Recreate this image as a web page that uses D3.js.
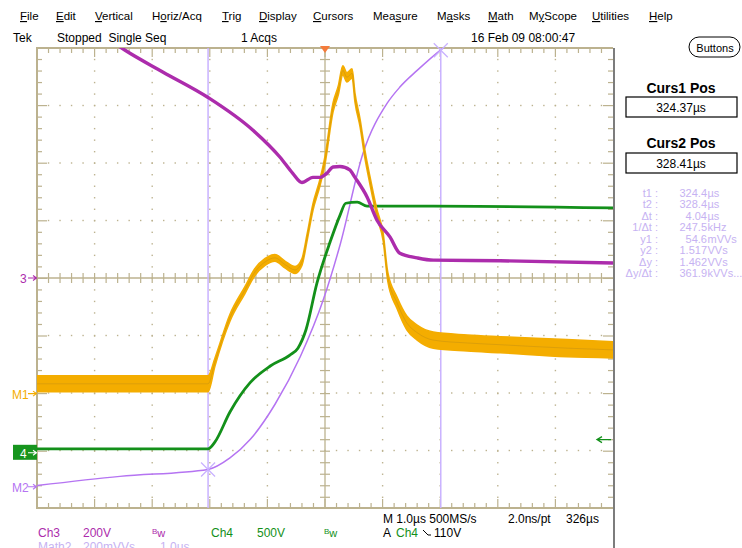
<!DOCTYPE html>
<html>
<head>
<meta charset="utf-8">
<script src="https://cdn.jsdelivr.net/npm/d3@7"></script>
<style>
  body { margin: 0; background: #fff; }
  svg { display: block; font-family: "Liberation Sans", Arial, sans-serif; }
</style>
</head>
<body>
<svg id="scope" width="742" height="548"></svg>
<script>
// time base: 10 divisions of 1 µs, left edge at 321.4 µs
const tStart = 321.4;
const tDiv = 1.0;

// traces: time (µs) and value in divisions from screen centre
const ch3T = [322.75, 322.93, 323.59, 324.37, 325.15, 325.62, 325.84, 326.00, 326.19, 326.31, 326.43, 326.54, 326.66, 326.83, 326.92, 327.13, 327.30, 327.53, 327.70, 328.00, 328.28, 329.44, 331.40];
const ch3V = [4.08, 3.96, 3.58, 3.14, 2.57, 2.10, 1.82, 1.66, 1.75, 1.75, 1.82, 1.93, 1.94, 1.88, 1.75, 1.41, 1.01, 0.71, 0.43, 0.35, 0.31, 0.30, 0.26];

const m1T = [321.40, 324.37, 324.49, 324.75, 325.01, 325.18, 325.36, 325.53, 325.71, 325.88, 326.00, 326.09, 326.19, 326.31, 326.40, 326.54, 326.63, 326.71, 326.78, 326.87, 326.92, 327.01, 327.09, 327.18, 327.30, 327.41, 327.49, 327.65, 327.82, 328.00, 328.28, 328.87, 329.44, 330.60, 331.40];
const m1V = [-1.84, -1.84, -1.46, -0.69, -0.21, 0.10, 0.28, 0.35, 0.23, 0.14, 0.28, 0.71, 1.23, 1.65, 2.05, 2.97, 3.26, 3.61, 3.49, 3.56, 3.14, 2.69, 2.17, 1.70, 1.13, 0.71, 0.02, -0.43, -0.78, -0.95, -1.08, -1.13, -1.16, -1.22, -1.25];
// half width of the noise band, divisions
const m1S = [0.14, 0.14, 0.07, 0.06, 0.06, 0.06, 0.06, 0.06, 0.06, 0.06, 0.06, 0.06, 0.06, 0.06, 0.07, 0.08, 0.08, 0.08, 0.08, 0.08, 0.08, 0.07, 0.07, 0.07, 0.07, 0.07, 0.08, 0.10, 0.12, 0.13, 0.14, 0.14, 0.14, 0.15, 0.14];

const ch4T = [321.40, 324.37, 324.49, 324.75, 325.10, 325.45, 325.79, 325.93, 326.07, 326.26, 326.49, 326.66, 326.76, 326.96, 327.13, 328.28, 331.40];
const ch4V = [-2.97, -2.97, -2.85, -2.33, -1.82, -1.53, -1.34, -1.22, -0.90, -0.09, 0.63, 1.09, 1.30, 1.32, 1.25, 1.25, 1.22];

const m2T = [321.40, 322.84, 324.37, 324.75, 325.10, 325.53, 325.97, 326.37, 326.66, 327.06, 327.48, 327.70, 328.00, 328.40, 328.74];
const m2V = [-3.61, -3.45, -3.33, -3.13, -2.81, -2.20, -1.37, -0.38, 0.57, 2.17, 3.04, 3.32, 3.61, 3.96, 4.20];

const cursorT = [324.37, 328.41];
const cursorV = [-3.33, 3.96];

// channel markers on the left (division offset)
const markerNames = ["3", "M1", "4", "M2"];
const markerV = [0, -2.01, -3.04, -3.63];
const trigLevelV = -2.81;

const menuLabels = ["File", "Edit", "Vertical", "Horiz/Acq", "Trig", "Display", "Cursors", "Measure", "Masks", "Math", "MyScope", "Utilities", "Help"];
const menuUnderline = [0, 0, 0, 1, 0, 0, 0, 3, 1, 0, 1, 0, 0];

const readLabels = ["t1 :", "t2 :", "\u0394t :", "1/\u0394t :", "y1 :", "y2 :", "\u0394y :", "\u0394y/\u0394t :"];
const readNums = ["324.4", "328.4", "4.04", "247.5", "54.6", "1.517", "1.462", "361.9"];
const readUnits = ["\u00b5s", "\u00b5s", "\u00b5s", "kHz", "mVVs", "VVs", "VVs", "kVVs..."];

const GRID = "#bcb28f";
const MAG = "#ac2cac";
const ORA = "#f4ad00";
const GRN = "#13901a";
const LAV = "#b574f2";
const CUR = "#c9b2ff";
const TXT_LAV = "#c6b2f2";

const svg = d3.select("#scope");

const X = d3.scaleLinear().domain([tStart, tStart + 10 * tDiv]).range([37, 613]);
const Y = d3.scaleLinear().domain([-4, 4]).range([508, 48]);
const px = 57.6 / 5; // minor tick step

// ---------- header ----------
const menuX = [20, 56, 95, 152, 222, 259, 313, 373, 437, 488, 529, 592, 649];
menuLabels.forEach((lab, i) => {
  const t = svg.append("text").attr("x", menuX[i]).attr("y", 20)
    .attr("font-size", 11.5).attr("fill", "#000");
  const u = menuUnderline[i];
  if (u > 0) t.append("tspan").text(lab.slice(0, u));
  t.append("tspan").text(lab[u]).style("text-decoration", "underline");
  t.append("tspan").text(lab.slice(u + 1));
});

const status = [["Tek", 13], ["Stopped  Single Seq", 57], ["1 Acqs", 241], ["16 Feb 09 08:00:47", 471]];
status.forEach(([s, x]) => {
  svg.append("text").attr("x", x).attr("y", 42).attr("font-size", 12)
    .attr("fill", "#000").attr("xml:space", "preserve").text(s);
});

// ---------- graticule ----------
const g = svg.append("g");
const divsX = d3.range(0, 11).map(i => X(tStart + i * tDiv));
const divsY = d3.range(-4, 5).map(j => Y(j));

// dotted division lines
d3.range(1, 10).filter(i => i !== 5).forEach(i => {
  d3.range(1, 40).forEach(k => {
    g.append("rect").attr("x", divsX[i] - 0.7).attr("y", 48 + k * px - 0.7)
      .attr("width", 1.4).attr("height", 1.4).attr("fill", GRID);
  });
});
d3.range(1, 8).filter(j => j !== 4).forEach(j => {
  d3.range(1, 50).forEach(k => {
    g.append("rect").attr("x", 37 + k * px - 0.7).attr("y", divsY[j] - 0.7)
      .attr("width", 1.4).attr("height", 1.4).attr("fill", GRID);
  });
});

// edge ticks
d3.range(1, 50).forEach(k => {
  const x = 37 + k * px, major = k % 5 === 0;
  const L = major ? 9 : 5;
  g.append("line").attr("x1", x).attr("x2", x).attr("y1", 48).attr("y2", 48 + L);
  g.append("line").attr("x1", x).attr("x2", x).attr("y1", 508).attr("y2", 508 - L);
  // centre horizontal ticks
  g.append("line").attr("x1", x).attr("x2", x).attr("y1", Y(0) - 5).attr("y2", Y(0) + 5);
});
d3.range(1, 40).forEach(k => {
  const y = 48 + k * px, major = k % 5 === 0;
  const L = major ? 10 : 5;
  g.append("line").attr("x1", 37).attr("x2", 37 + L).attr("y1", y).attr("y2", y);
  g.append("line").attr("x1", 613).attr("x2", 613 - L).attr("y1", y).attr("y2", y);
  g.append("line").attr("x1", X(tStart + 5) - 5).attr("x2", X(tStart + 5) + 5).attr("y1", y).attr("y2", y);
});
g.selectAll("line").attr("stroke", GRID).attr("stroke-width", 1.2);

// centre cross
g.append("line").attr("x1", 37).attr("x2", 613).attr("y1", Y(0)).attr("y2", Y(0))
  .attr("stroke", GRID).attr("stroke-width", 1.3);
g.append("line").attr("x1", X(tStart + 5)).attr("x2", X(tStart + 5)).attr("y1", 48).attr("y2", 508)
  .attr("stroke", GRID).attr("stroke-width", 1.3);

// frame
g.append("path").attr("d", "M613,48H37V508H613").attr("fill", "none")
  .attr("stroke", GRID).attr("stroke-width", 2);
svg.append("line").attr("x1", 614).attr("x2", 614).attr("y1", 48).attr("y2", 548)
  .attr("stroke", "#5c5c5c").attr("stroke-width", 1.6);

// ---------- traces ----------
svg.append("clipPath").attr("id", "plot").append("rect")
  .attr("x", 37).attr("y", 48).attr("width", 576).attr("height", 460);
const tr = svg.append("g").attr("clip-path", "url(#plot)");

// cursors
cursorT.forEach(t => {
  tr.append("line").attr("x1", X(t)).attr("x2", X(t)).attr("y1", 48).attr("y2", 508)
    .attr("stroke", CUR).attr("stroke-width", 1.5);
});

const pts = (T, V) => T.map((t, i) => [t, V[i]]);
const line = d3.line().x(d => X(d[0])).y(d => Y(d[1])).curve(d3.curveMonotoneX);

tr.append("path").attr("d", line(pts(m2T, m2V))).attr("fill", "none")
  .attr("stroke", LAV).attr("stroke-width", 1.5);

tr.append("path").attr("d", line(pts(ch4T, ch4V))).attr("fill", "none")
  .attr("stroke", GRN).attr("stroke-width", 2.8);

const band = d3.area()
  .x((d, i) => X(m1T[i]))
  .y0((d, i) => Y(m1V[i] - m1S[i]))
  .y1((d, i) => Y(m1V[i] + m1S[i]))
  .curve(d3.curveMonotoneX);
tr.append("path").attr("d", band(m1T)).attr("fill", ORA).attr("stroke", ORA).attr("stroke-width", 1.5);
tr.append("path").attr("d", line(pts(m1T, m1V))).attr("fill", "none")
  .attr("stroke", "#b98a16").attr("stroke-width", 0.8).attr("opacity", 0.5);

tr.append("path").attr("d", line(pts(ch3T, ch3V))).attr("fill", "none")
  .attr("stroke", MAG).attr("stroke-width", 3.4);

// cursor crosses on Math2
cursorT.forEach((t, i) => {
  const cx = X(t), cy = Y(cursorV[i]);
  svg.append("path").attr("d", `M${cx - 7},${cy - 7}L${cx + 7},${cy + 7}M${cx - 7},${cy + 7}L${cx + 7},${cy - 7}`)
    .attr("stroke", CUR).attr("stroke-width", 1.3);
});

// trigger position and level
svg.append("path").attr("d", `M${X(tStart + 5) - 5},46L${X(tStart + 5) + 5},46L${X(tStart + 5)},53Z`)
  .attr("fill", "#f47c3c");
const ty = Y(trigLevelV);
svg.append("path").attr("d", `M611,${ty}H598M602,${ty - 3}L597,${ty}L602,${ty + 3}`)
  .attr("fill", "none").attr("stroke", GRN).attr("stroke-width", 1.3);

// channel markers
const markerCol = [MAG, ORA, "#fff", LAV];
markerNames.forEach((nm, i) => {
  const y = Y(markerV[i]);
  if (nm === "4") {
    svg.append("rect").attr("x", 13).attr("y", y - 8).attr("width", 24).attr("height", 15).attr("fill", "#17951e");
  }
  svg.append("text").attr("x", nm.length > 1 ? 12 : 20).attr("y", y + 5)
    .attr("font-size", 12).attr("fill", markerCol[i]).text(nm);
  svg.append("path").attr("d", `M28,${y}H36M33,${y - 2.5}L36.5,${y}L33,${y + 2.5}`)
    .attr("fill", "none").attr("stroke", markerCol[i]).attr("stroke-width", 1.1);
});

// ---------- right panel ----------
svg.append("rect").attr("x", 689).attr("y", 37).attr("width", 51).attr("height", 20).attr("rx", 10)
  .attr("fill", "#fff").attr("stroke", "#000").attr("stroke-width", 1);
svg.append("text").attr("x", 715).attr("y", 51.5).attr("text-anchor", "middle")
  .attr("font-size", 11).text("Buttons");

[["Curs1 Pos", "324.37\u00b5s", 93, 97], ["Curs2 Pos", "328.41\u00b5s", 148, 153]].forEach(([h, v, hy, by]) => {
  svg.append("text").attr("x", 681).attr("y", hy).attr("text-anchor", "middle")
    .attr("font-size", 14).attr("font-weight", "bold").text(h);
  svg.append("rect").attr("x", 626).attr("y", by).attr("width", 111).attr("height", 20)
    .attr("fill", "#fff").attr("stroke", "#000").attr("stroke-width", 1.2);
  svg.append("text").attr("x", 681).attr("y", by + 15).attr("text-anchor", "middle")
    .attr("font-size", 12).text(v);
});

readLabels.forEach((lab, i) => {
  const y = 196.5 + i * 11.5;
  svg.append("text").attr("x", 658).attr("y", y).attr("text-anchor", "end")
    .attr("font-size", 11).attr("fill", TXT_LAV).text(lab);
  svg.append("text").attr("x", 707).attr("y", y).attr("text-anchor", "end")
    .attr("font-size", 11).attr("fill", TXT_LAV).text(readNums[i]);
  svg.append("text").attr("x", 707.5).attr("y", y)
    .attr("font-size", 11).attr("fill", TXT_LAV).text(readUnits[i]);
});

// ---------- bottom readouts ----------
function bw(x, y, col) {
  const t = svg.append("text").attr("x", x).attr("y", y).attr("fill", col);
  t.append("tspan").attr("font-size", 8).attr("dy", -3).text("B");
  t.append("tspan").attr("font-size", 11).attr("dy", 3).text("w");
}
const bottom = [["Ch3", 38, 537, MAG], ["200V", 83, 537, MAG], ["Ch4", 211, 537, GRN], ["500V", 257, 537, GRN],
  ["Math2", 38, 551, TXT_LAV], ["200mVVs", 83, 551, TXT_LAV], ["1.0\u00b5s", 160, 551, TXT_LAV],
  ["M 1.0\u00b5s 500MS/s", 383, 523, "#000"], ["2.0ns/pt", 508, 523, "#000"], ["326\u00b5s", 566, 523, "#000"],
  ["A", 383, 537, "#000"], ["Ch4", 396, 537, GRN], ["110V", 434, 537, "#000"]];
bottom.forEach(([s, x, y, c]) => {
  svg.append("text").attr("x", x).attr("y", y).attr("font-size", 12).attr("fill", c).text(s);
});
bw(152, 537, MAG);
bw(324, 537, GRN);
svg.append("path").attr("d", "M423,530L428,535H431").attr("fill", "none")
  .attr("stroke", "#000").attr("stroke-width", 1);
</script>
</body>
</html>
